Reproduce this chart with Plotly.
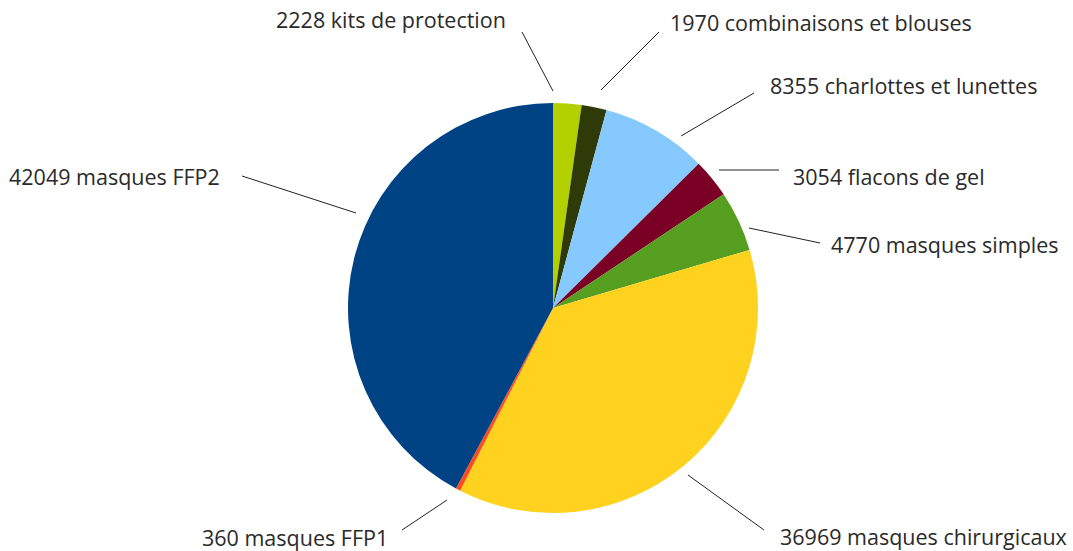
import plotly.graph_objects as go

# ---- data ----
categories = ["kits de protection", "combinaisons et blouses", "charlottes et lunettes",
              "flacons de gel", "masques simples", "masques chirurgicaux",
              "masques FFP1", "masques FFP2"]
values = [2228, 1970, 8355, 3054, 4770, 36969, 360, 42049]
colors = ["#B3D000", "#2E3A08", "#86C9FF", "#7A0026", "#569E1F", "#FFD21F", "#FF4B1E", "#004384"]

# ---- layout constants (pixel positions of labels / leader lines) ----
W, H = 1073, 551
CX, CY, R = 553, 308, 205
label_pos = [  # (x, y, anchor)
    (508, 20, "right"), (668, 23, "left"), (768, 85, "left"), (791, 176, "left"),
    (829, 244, "left"), (778, 536, "left"), (390, 537, "right"), (222, 176, "right"),
]
leader = [
    ((522, 32), (553, 91)), ((659, 32), (601, 90)), ((754, 93), (681, 136)),
    ((779, 170), (719, 170)), ((820, 243), (749, 228)), ((764, 530), (688, 475)),
    ((402, 530), (447, 500)), ((242, 176), (356, 213)),
]

def px(x):
    return x / W

def py(y):
    return 1 - y / H

fig = go.Figure(go.Pie(
    labels=categories, values=values, sort=False, direction="clockwise", rotation=0,
    marker=dict(colors=colors, line=dict(width=0)), textinfo="none",
    domain=dict(x=[px(CX - R), px(CX + R)], y=[py(CY + R), py(CY - R)]),
    showlegend=False,
))

annotations = []
for cat, val, (x, y, anc) in zip(categories, values, label_pos):
    annotations.append(dict(
        text=f"{val} {cat}", x=px(x), y=py(y), xref="paper", yref="paper",
        xanchor=anc, yanchor="middle", showarrow=False,
        font=dict(family="Open Sans", size=21.5, color="#2a2a2a"),
    ))

shapes = []
for (a, b) in leader:
    shapes.append(dict(type="line", xref="paper", yref="paper",
                       x0=px(a[0]), y0=py(a[1]), x1=px(b[0]), y1=py(b[1]),
                       line=dict(color="#222222", width=1)))

fig.update_layout(
    width=W, height=H, margin=dict(l=0, r=0, t=0, b=0),
    paper_bgcolor="white", plot_bgcolor="white",
    annotations=annotations, shapes=shapes,
)

fig.write_html("out.html", config={"displayModeBar": False},
               post_script="document.body.style.margin='0';document.body.style.overflow='hidden';")
